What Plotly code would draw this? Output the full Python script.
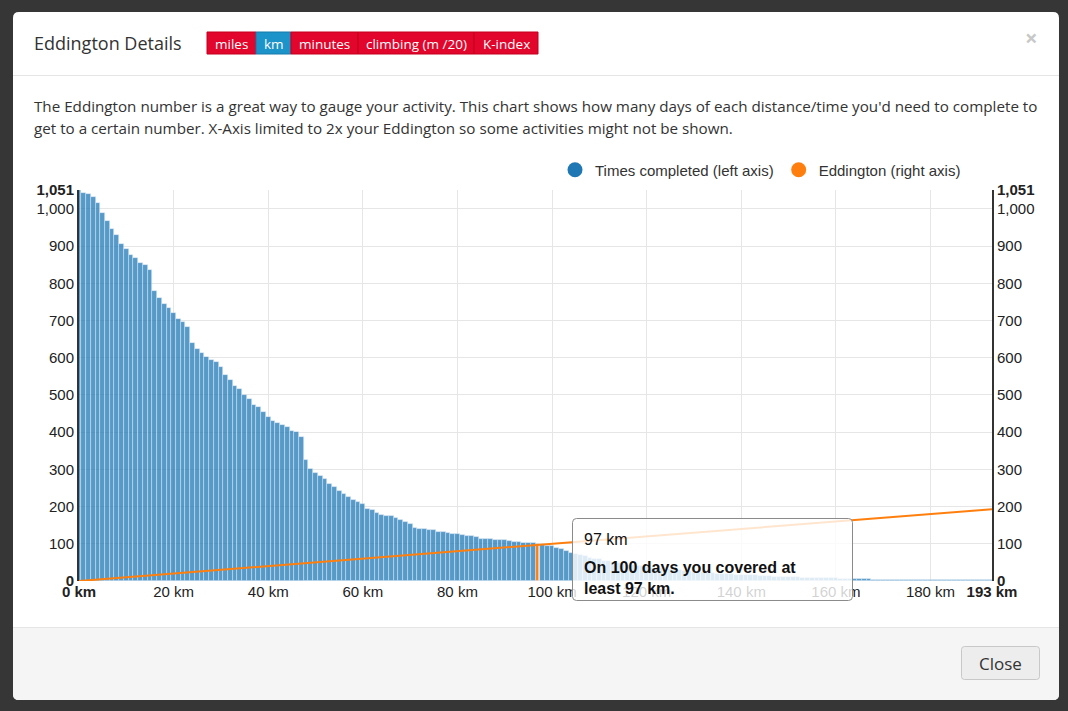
import plotly.graph_objects as go

# ---------------- data ----------------
km = list(range(0, 194))
times_completed = [
    1051, 1042, 1039, 1033, 1015, 988, 967, 945, 931, 907,
    893, 875, 867, 856, 849, 837, 780, 761, 744, 734,
    720, 703, 695, 683, 639, 624, 613, 603, 595, 589,
    575, 555, 540, 523, 517, 499, 488, 473, 469, 453,
    441, 430, 425, 418, 414, 404, 400, 388, 325, 300,
    289, 283, 274, 261, 253, 242, 233, 225, 219, 212,
    206, 194, 190, 184, 178, 175, 174, 169, 163, 158,
    152, 143, 140, 139, 138, 137, 132, 131, 130, 127,
    126, 125, 122, 121, 118, 114, 113, 112, 111, 110,
    109, 108, 106, 105, 103, 102, 101, 100, 97, 95,
    93, 88, 85, 80, 76, 73, 70, 66, 62, 60,
    58, 55, 53, 51, 48, 46, 44, 42, 40, 39,
    38, 36, 35, 34, 32, 31, 30, 29, 28, 27,
    25, 24, 23, 22, 21, 20, 19, 19, 18, 17,
    17, 16, 15, 15, 14, 14, 13, 12, 12, 11,
    11, 10, 10, 9, 9, 8, 8, 8, 7, 7,
    7, 6, 6, 6, 5, 5, 5, 5, 4, 4,
    3, 3, 3, 3, 3, 3, 3, 3, 3, 3,
    3, 3, 3, 3, 3, 3, 2, 2, 2, 2,
    2, 2, 2, 2,
]
eddington_km = [0, 193]
eddington_value = [0, 193]
highlight_km = 97

x_tick_vals = [0, 20, 40, 60, 80, 100, 120, 140, 160, 180, 193]
x_tick_text = ["<b>0 km</b>", "20 km", "40 km", "60 km", "80 km", "100 km",
               "120 km", "140 km", "160 km", "180 km", "<b>193 km</b>"]
y_tick_vals = [0, 100, 200, 300, 400, 500, 600, 700, 800, 900, 1000, 1051]
y_tick_text = ["<b>0</b>", "100", "200", "300", "400", "500", "600", "700",
               "800", "900", "1,000", "<b>1,051</b>"]

unit_buttons = ["miles", "km", "minutes", "climbing (m /20)", "K-index"]
active_button = "km"

# ---------------- geometry helpers ----------------
W, H = 1068, 711
L, R, T, B = 79, 76, 190, 130
PW = W - L - R
PH = H - T - B


def px(x):
    return (x - L) / PW


def py(y):
    return (H - B - y) / PH


def pt(x, y):
    return f"{px(x):.5f},{py(y):.5f}"


def rrect(x0, y0, x1, y1, r, tl=True, tr=True, br=True, bl=True):
    p = []
    p.append("M" + pt(x0 + (r if tl else 0), y0))
    if tr:
        p.append("L" + pt(x1 - r, y0))
        p.append("Q" + pt(x1, y0) + " " + pt(x1, y0 + r))
    else:
        p.append("L" + pt(x1, y0))
    if br:
        p.append("L" + pt(x1, y1 - r))
        p.append("Q" + pt(x1, y1) + " " + pt(x1 - r, y1))
    else:
        p.append("L" + pt(x1, y1))
    if bl:
        p.append("L" + pt(x0 + r, y1))
        p.append("Q" + pt(x0, y1) + " " + pt(x0, y1 - r))
    else:
        p.append("L" + pt(x0, y1))
    if tl:
        p.append("L" + pt(x0, y0 + r))
        p.append("Q" + pt(x0, y0) + " " + pt(x0 + r, y0))
    else:
        p.append("L" + pt(x0, y0))
    p.append("Z")
    return " ".join(p)


UI_FONT = "Open Sans"
CH_FONT = "Liberation Sans"

# ---------------- traces ----------------
bar_colors = ["#ff7f0e" if k == highlight_km else "rgba(31,119,180,0.75)" for k in km]
bar_widths = [0.62 if k == highlight_km else 1.0 for k in km]

fig = go.Figure()
fig.add_trace(go.Bar(
    x=km, y=times_completed, width=bar_widths,
    marker=dict(color=bar_colors, line=dict(color="rgba(220,235,248,0.7)", width=0.7)),
    showlegend=False, hoverinfo="skip", yaxis="y",
))
fig.add_trace(go.Scatter(
    x=eddington_km, y=eddington_value, mode="lines",
    line=dict(color="#ff7f0e", width=2), showlegend=False,
    hoverinfo="skip", yaxis="y2",
))
# legend entries
fig.add_trace(go.Scatter(x=[None], y=[None], mode="markers", name="Times completed (left axis)",
                         marker=dict(size=15, color="#1f77b4")))
fig.add_trace(go.Scatter(x=[None], y=[None], mode="markers", name="Eddington (right axis)",
                         marker=dict(size=15, color="#ff7f0e")))

# ---------------- shapes ----------------
shapes = []
# modal body
shapes.append(dict(type="path", xref="paper", yref="paper", layer="below",
                   path=rrect(13, 12, 1059, 700, 6), fillcolor="#ffffff",
                   line=dict(width=0)))
# header separator
shapes.append(dict(type="line", xref="paper", yref="paper", layer="below",
                   x0=px(13), x1=px(1059), y0=py(75.5), y1=py(75.5),
                   line=dict(color="#e5e5e5", width=1)))
# footer
shapes.append(dict(type="path", xref="paper", yref="paper", layer="below",
                   path=rrect(13, 627, 1059, 700, 6, tl=False, tr=False),
                   fillcolor="#f5f5f5", line=dict(width=0)))
shapes.append(dict(type="line", xref="paper", yref="paper", layer="below",
                   x0=px(13), x1=px(1059), y0=py(627.5), y1=py(627.5),
                   line=dict(color="#e5e5e5", width=1)))
# close button
shapes.append(dict(type="path", xref="paper", yref="paper", layer="below",
                   path=rrect(961.5, 646.5, 1039.5, 679.5, 3),
                   fillcolor="#ededed", line=dict(color="#c8c8c8", width=1)))

# unit buttons
btn_edges = [207, 256, 291, 358, 474, 538]
annotations = []
for i, name in enumerate(unit_buttons):
    x0, x1 = btn_edges[i], btn_edges[i + 1]
    col = "#1c93c9" if name == active_button else "#e2052c"
    shapes.append(dict(type="rect", xref="paper", yref="paper", layer="below",
                       x0=px(x0), x1=px(x1), y0=py(54), y1=py(32),
                       fillcolor=col, line=dict(color="#c4001f" if name != active_button else "#167bab", width=1)))
    annotations.append(dict(x=px((x0 + x1) / 2), y=py(43.5), xref="paper", yref="paper",
                            text=name, showarrow=False, xanchor="center", yanchor="middle",
                            font=dict(family=UI_FONT, size=13.5, color="#ffffff")))

# tooltip box (above chart)
shapes.append(dict(type="path", xref="paper", yref="paper", layer="above",
                   path=rrect(572.5, 518.5, 852.5, 600.5, 4),
                   fillcolor="rgba(255,255,255,0.8)", line=dict(color="#8a8a8a", width=1)))

# ---------------- annotations ----------------
annotations += [
    dict(x=px(32), y=py(43), text="Eddington Details", xanchor="left", yanchor="middle",
         font=dict(family=UI_FONT, size=18, color="#333333")),
    dict(x=px(1031), y=py(37), text="<b>×</b>", xanchor="center", yanchor="middle",
         font=dict(family=UI_FONT, size=22, color="#c8c8c8")),
    dict(x=px(32), y=py(106), xanchor="left", yanchor="middle",
         text="The Eddington number is a great way to gauge your activity. This chart shows how many days of each distance/time you'd need to complete to",
         font=dict(family=UI_FONT, size=15.2, color="#333333")),
    dict(x=px(32), y=py(128), xanchor="left", yanchor="middle",
         text="get to a certain number. X-Axis limited to 2x your Eddington so some activities might not be shown.",
         font=dict(family=UI_FONT, size=15.2, color="#333333")),
    dict(x=px(1000.5), y=py(663), text="Close", xanchor="center", yanchor="middle",
         font=dict(family=UI_FONT, size=17, color="#333333")),
    dict(x=px(582), y=py(539), text=f"{highlight_km} km", xanchor="left", yanchor="middle",
         font=dict(family=CH_FONT, size=16, color="#111111")),
    dict(x=px(582), y=py(577.5), align="left", xanchor="left", yanchor="middle",
         text=f"<b>On {times_completed[highlight_km]} days you covered at<br>least {highlight_km} km.</b>",
         font=dict(family=CH_FONT, size=16, color="#111111")),
]
for a in annotations:
    a.setdefault("xref", "paper")
    a.setdefault("yref", "paper")
    a.setdefault("showarrow", False)

# ---------------- layout ----------------
tickfont = dict(family=CH_FONT, size=15, color="#222222")
fig.update_layout(
    width=W, height=H, autosize=False,
    margin=dict(l=L, r=R, t=T, b=B, pad=0),
    paper_bgcolor="#363636", plot_bgcolor="rgba(0,0,0,0)",
    bargap=0,
    xaxis=dict(range=[0, 193], tickvals=x_tick_vals, ticktext=x_tick_text,
               showgrid=True, gridcolor="#e6e6e6", gridwidth=1, zeroline=False,
               showline=False, ticks="", tickfont=tickfont, fixedrange=True),
    yaxis=dict(range=[0, 1051], tickvals=y_tick_vals, ticktext=y_tick_text,
               showgrid=True, gridcolor="#e6e6e6", gridwidth=1, zeroline=False,
               showline=True, linecolor="#333333", linewidth=2, ticks="",
               tickfont=tickfont, fixedrange=True),
    yaxis2=dict(range=[0, 1051], tickvals=y_tick_vals, ticktext=y_tick_text,
                overlaying="y", side="right", showgrid=False, zeroline=False,
                showline=True, linecolor="#333333", linewidth=2, ticks="",
                tickfont=tickfont, fixedrange=True),
    legend=dict(orientation="h", x=px(966), xanchor="right", y=py(170), yanchor="middle",
                font=dict(family=CH_FONT, size=15, color="#333333"),
                bgcolor="rgba(0,0,0,0)", itemsizing="trace"),
    shapes=shapes,
    annotations=annotations,
)

fig.write_html("out.html")
